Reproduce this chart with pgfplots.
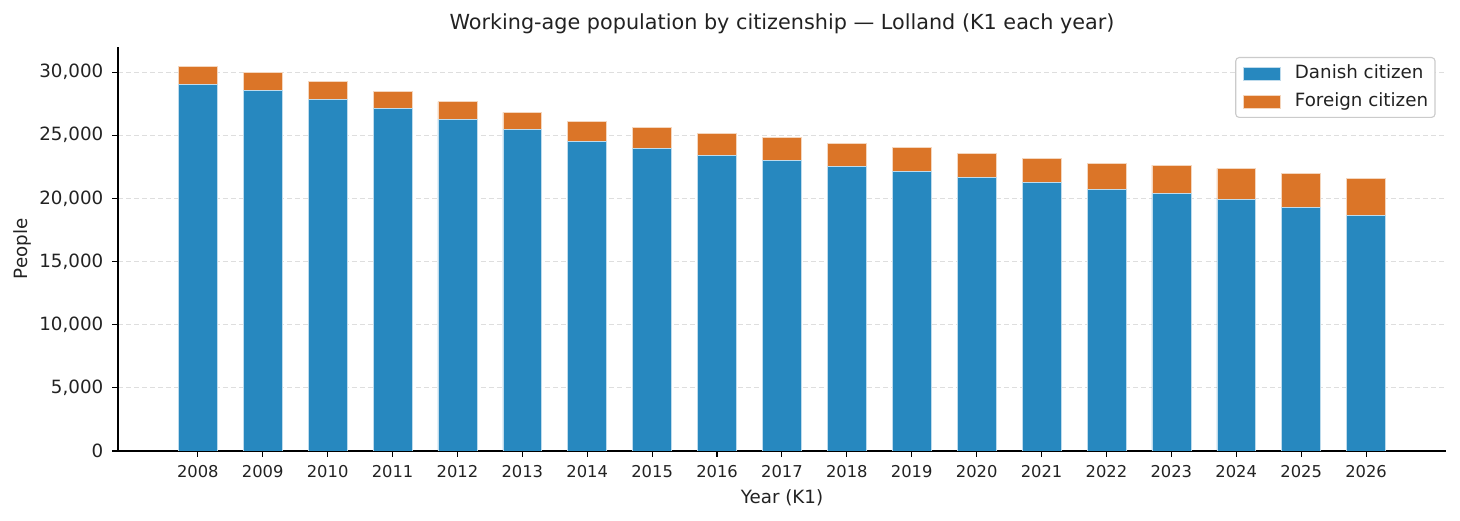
\documentclass[border=0pt]{standalone}
\usepackage{fontspec}
\setmainfont{DejaVu Sans}
\usepackage{pgfplots}
\usepackage{pgfplotstable}
\pgfplotsset{compat=1.18}
\definecolor{cblue}{HTML}{2788BF}
\definecolor{corange}{HTML}{DB7528}
\definecolor{gridc}{HTML}{DEDEDE}
\definecolor{txt}{HTML}{222222}
\pgfplotstableread{
year danish foreign
2008 29058 1370
2009 28583 1401
2010 27870 1370
2011 27134 1370
2012 26287 1369
2013 25439 1378
2014 24545 1528
2015 23966 1664
2016 23436 1742
2017 23016 1845
2018 22538 1848
2019 22117 1953
2020 21694 1901
2021 21272 1900
2022 20744 2004
2023 20375 2270
2024 19952 2431
2025 19319 2692
2026 18686 2905
}\datatable
\begin{document}
\begin{tikzpicture}
\path[use as bounding box] (-84.96bp,-50.4bp) rectangle (966.24bp,324.72bp);
\begin{axis}[
  at={(0,0)}, anchor=south west,
  scale only axis, width=956.16bp, height=290.88bp,
  ybar stacked, bar width=0.6, bar shift=0pt,
  xmin=2006.77, xmax=2027.23, ymin=0, ymax=31990,
  axis x line*=bottom, axis y line*=left,
  axis line style={-, line width=0.8bp, color=black},
  tick align=outside, major tick length=4bp,
  tick style={line width=0.8bp, color=black},
  xtick={2008,...,2026},
  ytick={0,5000,10000,15000,20000,25000,30000},
  scaled y ticks=false,
  /pgf/number format/assume math mode=true,
  xticklabel style={/pgf/number format/1000 sep={}, font=\fontsize{11.8}{14}\selectfont, text=txt, anchor=base, inner sep=0pt, yshift=-14.9bp},
  yticklabel style={/pgf/number format/1000 sep={,}, font=\fontsize{13.2}{16}\selectfont, text=txt, anchor=east, inner sep=0pt, xshift=-6.4bp},
  ymajorgrids,
  major grid style={color=gridc, line width=0.8bp, dash pattern=on 3.6bp off 2.2bp},
  title={Working-age population by citizenship — Lolland (K1 each year)},
  title style={at={(axis description cs:0.5,1.0223)}, anchor=base, font=\fontsize{15}{18}\selectfont, text=txt, inner sep=0pt},
  xlabel={Year (K1)},
  xlabel style={at={(axis description cs:0.5,-0.131)}, anchor=base, font=\fontsize{13.2}{16}\selectfont, text=txt, inner sep=0pt},
  ylabel={People},
  ylabel style={at={(axis description cs:-0.0685,0.5)}, anchor=base, font=\fontsize{13.2}{16}\selectfont, text=txt, inner sep=0pt},
  legend image code/.code={\fill[#1, sharp corners] (0bp,-4.7bp) rectangle (26.6bp,4.7bp);},
  legend style={at={(axis description cs:1,1)}, anchor=north east, xshift=-7.5bp, yshift=-7.2bp,
    draw=gridc!80!gray, rounded corners=2.5bp, fill=white, line width=0.8bp,
    font=\fontsize{13.2}{16}\selectfont, text=txt,
    inner xsep=5bp, inner ysep=5.3bp, row sep=7.9bp, column sep=0bp,
    nodes={inner sep=0pt, text height=9.7bp, text depth=2.6bp},
    cells={anchor=west}},
  legend cell align=left,
]
\addplot[fill=cblue, draw=white!70!cblue, line width=0.5bp] table[x=year, y=danish] {\datatable};
\addlegendentry{\hspace{10.5bp}Danish citizen}
\addplot[fill=corange, draw=white!70!corange, line width=0.5bp] table[x=year, y=foreign] {\datatable};
\addlegendentry{\hspace{10.5bp}Foreign citizen}
\end{axis}
\end{tikzpicture}
\end{document}
